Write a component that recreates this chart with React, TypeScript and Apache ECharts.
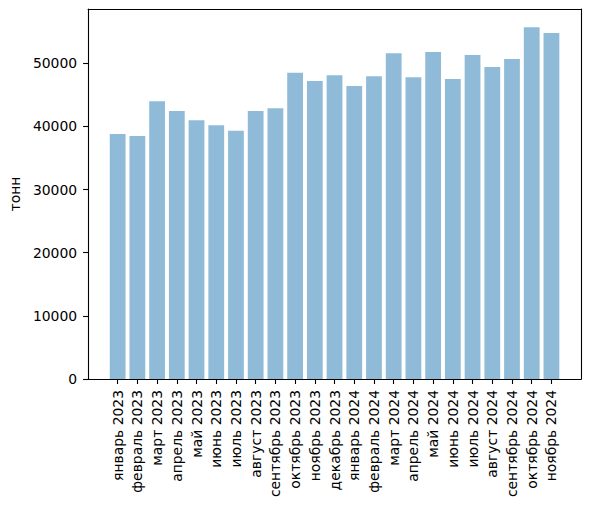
import { useEffect, useRef } from 'react'
import * as echarts from 'echarts'

// Месяцы и объёмы (тонн)
const months = [
  'январь 2023', 'февраль 2023', 'март 2023', 'апрель 2023', 'май 2023', 'июнь 2023',
  'июль 2023', 'август 2023', 'сентябрь 2023', 'октябрь 2023', 'ноябрь 2023', 'декабрь 2023',
  'январь 2024', 'февраль 2024', 'март 2024', 'апрель 2024', 'май 2024', 'июнь 2024',
  'июль 2024', 'август 2024', 'сентябрь 2024', 'октябрь 2024', 'ноябрь 2024',
]
const tonnes = [
  38800, 38500, 44000, 42450, 41000, 40200, 39300, 42450, 42900, 48500, 47200, 48100,
  46400, 47950, 51600, 47800, 51800, 47500, 51300, 49400, 50700, 55700, 54800,
]
const yTicks = [0, 10000, 20000, 30000, 40000, 50000]
const yMax = 58600

const FONT = '"DejaVu Sans", sans-serif'
const FS = 13.9

export default function App() {
  const elRef = useRef<HTMLDivElement>(null)

  useEffect(() => {
    if (!elRef.current) return
    const chart = echarts.init(elRef.current, null, { renderer: 'svg' })
    // пустые категории по краям — отступ как у matplotlib
    const cats = ['', ...months, '']
    const vals = [null, ...tonnes, null]
    const line = { show: true, onZero: false, lineStyle: { color: '#000', width: 1.1 } }
    chart.setOption({
      animation: false,
      grid: { left: 85, right: 8, top: 9, bottom: 127 },
      xAxis: [
        {
          type: 'category',
          data: cats,
          boundaryGap: true,
          axisLine: line,
          axisTick: {
            show: true,
            alignWithLabel: true,
            length: 5,
            lineStyle: { color: '#000', width: 1.1 },
            interval: (_i: number, v: string) => v !== '',
          },
          axisLabel: {
            interval: 0,
            rotate: 90,
            margin: 11,
            color: '#000',
            fontFamily: FONT,
            fontSize: FS,
          },
        },
        {
          type: 'category',
          data: cats,
          position: 'top',
          axisLine: line,
          axisTick: { show: false },
          axisLabel: { show: false },
        },
      ],
      yAxis: [
        {
          type: 'value',
          min: 0,
          max: yMax,
          name: 'тонн',
          nameLocation: 'middle',
          nameGap: 58,
          nameTextStyle: { color: '#000', fontFamily: FONT, fontSize: FS },
          axisLine: line,
          axisTick: {
            show: true,
            length: 5,
            lineStyle: { color: '#000', width: 1.1 },
            customValues: yTicks,
          },
          axisLabel: {
            customValues: yTicks,
            formatter: (v: number) => String(v),
            margin: 11,
            color: '#000',
            fontFamily: FONT,
            fontSize: FS,
          },
          splitLine: { show: false },
        },
        {
          type: 'value',
          min: 0,
          max: yMax,
          position: 'right',
          axisLine: line,
          axisTick: { show: false },
          axisLabel: { show: false },
          splitLine: { show: false },
        },
      ],
      series: [
        {
          type: 'bar',
          data: vals,
          barWidth: '80%',
          itemStyle: { color: '#1f77b4', opacity: 0.5 },
        },
      ],
    })
    return () => chart.dispose()
  }, [])

  return (
    <div
      ref={elRef}
      style={{ position: 'fixed', left: 0, top: 0, width: 589, height: 506, background: '#fff' }}
    />
  )
}
